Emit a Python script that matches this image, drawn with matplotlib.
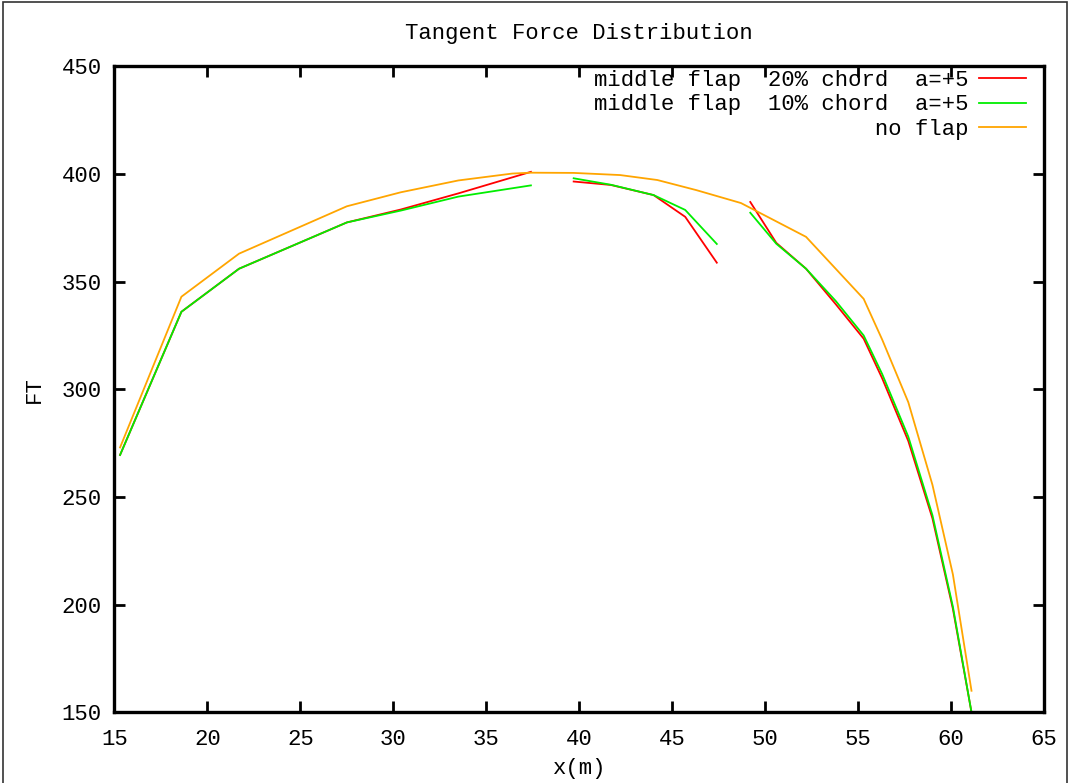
import matplotlib
matplotlib.use("Agg")
import matplotlib.pyplot as plt
from matplotlib.patches import Rectangle

# no flap (one continuous curve)
x_noflap = [15.3, 18.6, 21.7, 27.5, 30.4, 33.5, 36.4, 37.4, 39.7, 42.2, 44.2, 46.3,
            48.7, 52.2, 55.3, 56.3, 57.7, 59.0, 60.1, 61.1]
ft_noflap = [273, 343, 363, 385, 391.5, 397, 400.2, 400.6, 400.5, 399.5, 397.2, 392.5,
             386.5, 370.8, 342, 323, 294, 255.6, 214, 160]

# flap cases, three blade sections each
x_sec1 = [15.3, 18.6, 21.7, 27.5, 30.4, 33.5, 37.4]
x_sec2 = [39.7, 41.7, 44.0, 45.7, 47.4]
x_sec3 = [49.2, 50.6, 52.2, 53.8, 55.3, 56.3, 57.7, 59.0, 60.1, 61.1]

ft20_sec1 = [269.5, 336, 356, 377.5, 383.5, 391, 401]
ft20_sec2 = [396.5, 394.9, 390.2, 380.1, 358.8]
ft20_sec3 = [387, 368, 356, 339.5, 323.5, 305, 276, 240, 198, 150]

ft10_sec1 = [269.5, 336, 356, 377.5, 383, 389.5, 394.7]
ft10_sec2 = [398, 395, 390.2, 383.3, 367.5]
ft10_sec3 = [382, 367.6, 356, 341, 325, 307, 278, 241.5, 199, 150]

xticks = [15, 20, 25, 30, 35, 40, 45, 50, 55, 60, 65]
yticks = [150, 200, 250, 300, 350, 400, 450]

plt.rcParams['font.family'] = ['Liberation Mono', 'DejaVu Sans Mono']
plt.rcParams['font.size'] = 16

fig = plt.figure(figsize=(10.7, 7.83), dpi=100)
ax = fig.add_axes([0.107, 0.0903, 0.8687, 0.825])

red = '#ff0000'
green = '#00ee00'
orange = '#ffa500'
lw = 1.3

ax.plot(x_sec1, ft20_sec1, color=red, lw=lw, label='middle flap  20% chord  a=+5')
ax.plot(x_sec2, ft20_sec2, color=red, lw=lw)
ax.plot(x_sec3, ft20_sec3, color=red, lw=lw)
ax.plot(x_sec1, ft10_sec1, color=green, lw=lw, label='middle flap  10% chord  a=+5')
ax.plot(x_sec2, ft10_sec2, color=green, lw=lw)
ax.plot(x_sec3, ft10_sec3, color=green, lw=lw)
ax.plot(x_noflap, ft_noflap, color=orange, lw=lw, label=' ' * 21 + 'no flap')

ax.set_xlim(15, 65)
ax.set_ylim(150, 450)
ax.set_xticks(xticks)
ax.set_yticks(yticks)
ax.tick_params(direction='in', length=8, width=2, top=True, right=True)
ax.tick_params(axis='x', pad=12)
ax.tick_params(axis='y', pad=9)
for s in ax.spines.values():
    s.set_linewidth(2.4)

ax.set_title('Tangent Force Distribution', fontsize=16, pad=20)
ax.set_xlabel('x(m)', labelpad=6)
ax.set_ylabel('FT', labelpad=12)

ax.legend(loc='upper right', bbox_to_anchor=(0.995, 1.015), frameon=False,
          markerfirst=False, handlelength=2.1, handletextpad=0.5,
          labelspacing=0.15, borderaxespad=0.2)

fig.add_artist(Rectangle((0.003, -0.01), 0.994, 1.007, transform=fig.transFigure,
                         fill=False, edgecolor='#333333', lw=1.2))

fig.savefig('out.png', dpi=100)
